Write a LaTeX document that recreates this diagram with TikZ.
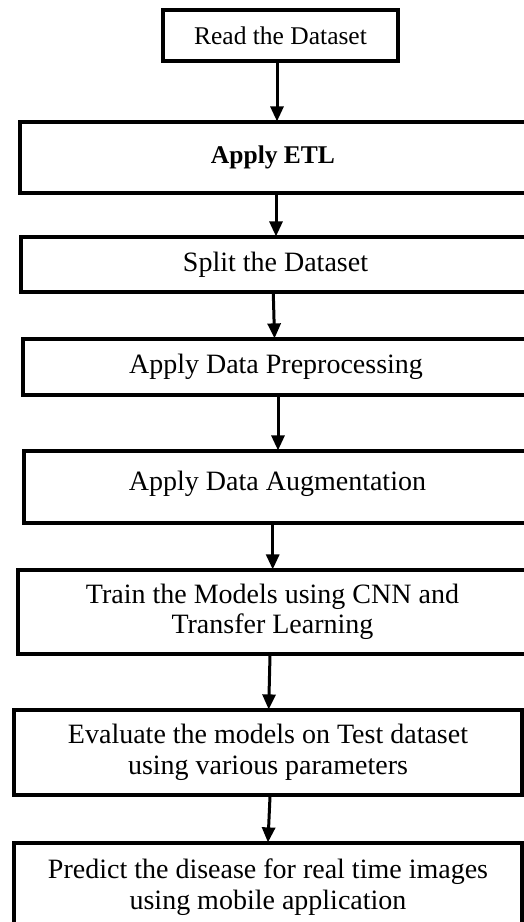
\documentclass[tikz,border=0pt]{standalone}
\usepackage{fontspec}
\setmainfont{Liberation Serif}
\usetikzlibrary{arrows.meta}
\begin{document}
\begin{tikzpicture}[x=1pt,y=-1pt,
  stepbox/.style={draw=black,line width=3.2pt,rectangle,align=center,inner sep=0pt,
    font=\fontsize{28}{30.5}\selectfont},
  smallbox/.style={stepbox,font=\fontsize{25.5}{30}\selectfont},
  arr/.style={line width=3pt,-{Triangle[width=13pt,length=15pt]},shorten >=-1pt}]
\useasboundingbox (0,0) rectangle (524,922);
\clip (0,0) rectangle (524,922);
\node[smallbox,minimum width=235pt,minimum height=51pt] (n1) at (280.5,35.5) {Read the Dataset};
\node[smallbox,minimum width=506pt,minimum height=71pt] (n2) at (273,157.5) {\textbf{Apply ETL}};
\node[stepbox,minimum width=509pt,minimum height=55pt] (n3) at (275.5,264.5) {Split the Dataset};
\node[stepbox,minimum width=506pt,minimum height=56pt] (n4) at (276,367) {Apply Data Preprocessing};
\node[stepbox,minimum width=507pt,minimum height=72pt,text depth=12pt] (n5) at (277.5,487) {Apply Data Augmentation};
\node[stepbox,minimum width=509pt,minimum height=84pt] (n6) at (272.5,612) {Train the Models using CNN and\\Transfer Learning};
\node[stepbox,minimum width=508pt,minimum height=85pt] (n7) at (268,752.5) {Evaluate the models on Test dataset\\using various parameters};
\node[stepbox,minimum width=508pt,minimum height=88pt] (n8) at (268,887) {Predict the disease for real time images\\using mobile application};
\draw[arr] ([xshift=-3.5pt]n1.south) -- ([xshift=4pt]n2.north);
\draw[arr] ([xshift=3pt]n2.south) -- ([xshift=0.5pt]n3.north);
\draw[arr] ([xshift=-2.2pt]n3.south) -- ([xshift=-1.5pt]n4.north);
\draw[arr] ([xshift=2pt]n4.south) -- ([xshift=0.5pt]n5.north);
\draw[arr] ([xshift=-4.8pt]n5.south) -- ([xshift=0.2pt]n6.north);
\draw[arr] ([xshift=-2.5pt]n6.south) -- ([xshift=0.7pt]n7.north);
\draw[arr] ([xshift=2pt]n7.south) -- ([xshift=0pt]n8.north);
\end{tikzpicture}
\end{document}
